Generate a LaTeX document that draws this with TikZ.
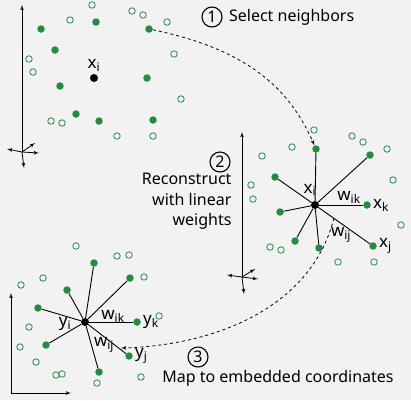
\documentclass[tikz,border=0pt]{standalone}
\usepackage{fontspec}
\setmainfont{Noto Sans}
\usetikzlibrary{shapes, arrows, positioning}
\definecolor{ptgreen}{RGB}{38,138,68}
\definecolor{bggray}{RGB}{242,242,242}

\begin{document}
\begin{tikzpicture}[x=1pt, y=-1pt, >=latex', font=\fontsize{16}{19}\selectfont]
        \tikzstyle{nbr} = [circle, fill=ptgreen, inner sep=0pt, minimum size=7.5pt]
        \tikzstyle{far} = [circle, draw=ptgreen, line width=0.8pt, inner sep=0pt, minimum size=6.5pt]
        \tikzstyle{ctr} = [circle, fill=black, inner sep=0pt, minimum size=8pt]
        \tikzstyle{axis} = [->, line width=0.8pt]
        \tikzstyle{spoke} = [line width=0.9pt]
        \tikzstyle{hop} = [->, dashed, line width=0.8pt]
        \tikzstyle{stepnum} = [circle, draw, line width=1.1pt, inner sep=0pt, minimum size=20pt]
        \tikzstyle{lbl} = [inner sep=1pt, font=\fontsize{17}{19}\selectfont]

        \fill [bggray] (0,0) rectangle (411,400);

        % 1: original space
        \foreach \p [count=\i] in {(92,5),(70,20),(132,11),(143,15),(167,22),(174,54),(29,59),(33,72),(181,99),(51,121),(62,123),(117,136),(153,136)}
            \node [far] (f1-\i) at \p {};
        \foreach \p [count=\i] in {(41,29),(96,22),(149,29),(55,50),(60,86),(147,78),(76,114),(99,121),(153,120)}
            \node [nbr] (n1-\i) at \p {};
        \node [ctr] (c1) at (94,78) {};
        \node [lbl, above=1pt of c1] (xi1) {x\textsubscript{i}};

        \coordinate (o1) at (22,152);
        \coordinate (o1t) at (22,5);
        \coordinate (o1l) at (7,149);
        \coordinate (o1r) at (39,153);
        \coordinate (o1u) at (35,143);
        \coordinate (o1d) at (24,168);
        \draw [axis] (o1) -- (o1t);
        \draw [axis] (o1) -- (o1l);
        \draw [axis] (o1) -- (o1r);
        \draw [axis] (o1) -- (o1u);
        \draw [axis] (o1) -- (o1d);

        \node [stepnum] (s1) at (212,17) {1};
        \node [right=3pt of s1] (t1) {Select neighbors};

        % 2: local weights
        \foreach \p [count=\i] in {(314,130),(352,136),(363,142),(387,149),(292,147),(262,156),(393,180),(251,185),(253,199),(401,225),(270,247),(281,250),(338,262),(374,262)}
            \node [far] (f2-\i) at \p {};
        \foreach \p [count=\i] in {(316,149),(370,155),(275,177),(367,205),(280,212),(295,241),(319,248),(373,246)}
            \node [nbr] (n2-\i) at \p {};
        \node [ctr] (c2) at (315,205) {};
        \foreach \i in {1,...,8}
            \draw [spoke] (c2) -- (n2-\i);
        \node [lbl] (xi2) at (310,190) {x\textsubscript{i}};
        \node [lbl] (wik2) at (349,197) {w\textsubscript{ik}};
        \node [lbl, right=1pt of n2-4] (xk2) {x\textsubscript{k}};
        \node [lbl] (wij2) at (341,235) {w\textsubscript{ij}};
        \node [lbl, right=1pt of n2-8] (xj2) {x\textsubscript{j}};

        \coordinate (o2) at (242,277);
        \coordinate (o2t) at (242,132);
        \coordinate (o2l) at (227,275);
        \coordinate (o2r) at (258,279);
        \coordinate (o2u) at (255,269);
        \coordinate (o2d) at (244,294);
        \draw [axis] (o2) -- (o2t);
        \draw [axis] (o2) -- (o2l);
        \draw [axis] (o2) -- (o2r);
        \draw [axis] (o2) -- (o2u);
        \draw [axis] (o2) -- (o2d);

        \node [stepnum] (s2) at (220,162) {2};
        \node [anchor=north east, align=right, font=\fontsize{16}{20.5}\selectfont] (t2) at (235,170) {Reconstruct\\with linear\\weights};

        % 3: embedding
        \foreach \p [count=\i] in {(76,246),(117,256),(129,255),(144,277),(43,278),(21,285),(159,316),(29,327),(20,347),(36,362),(56,375),(62,374),(141,377),(97,383)}
            \node [far] (f3-\i) at \p {};
        \foreach \p [count=\i] in {(94,263),(130,278),(67,290),(38,308),(137,322),(46,345),(129,356),(99,372)}
            \node [nbr] (n3-\i) at \p {};
        \node [ctr] (c3) at (85,322) {};
        \foreach \i in {1,...,8}
            \draw [spoke] (c3) -- (n3-\i);
        \node [lbl] (yi3) at (65,324) {y\textsubscript{i}};
        \node [lbl] (wik3) at (113,316) {w\textsubscript{ik}};
        \node [lbl, right=1pt of n3-5] (yk3) {y\textsubscript{k}};
        \node [lbl] (wij3) at (104,345) {w\textsubscript{ij}};
        \node [lbl, right=1pt of n3-7] (yj3) {y\textsubscript{j}};

        \coordinate (o3) at (11,393);
        \coordinate (o3t) at (11,293);
        \coordinate (o3r) at (71,393);
        \draw [axis] (o3) -- (o3t);
        \draw [axis] (o3) -- (o3r);

        \node [stepnum] (s3) at (198,357) {3};
        \node (t3) at (278,378) {Map to embedded coordinates};

        % hops between steps
        \coordinate (m2) at (334,218);
        \coordinate (m3) at (121,348);
        \draw [hop] (n1-3) .. controls (250,50) and (290,90) .. (n2-1);
        \draw [hop] (m2) .. controls (312,305) and (220,345) .. (m3);
\end{tikzpicture}
\end{document}
